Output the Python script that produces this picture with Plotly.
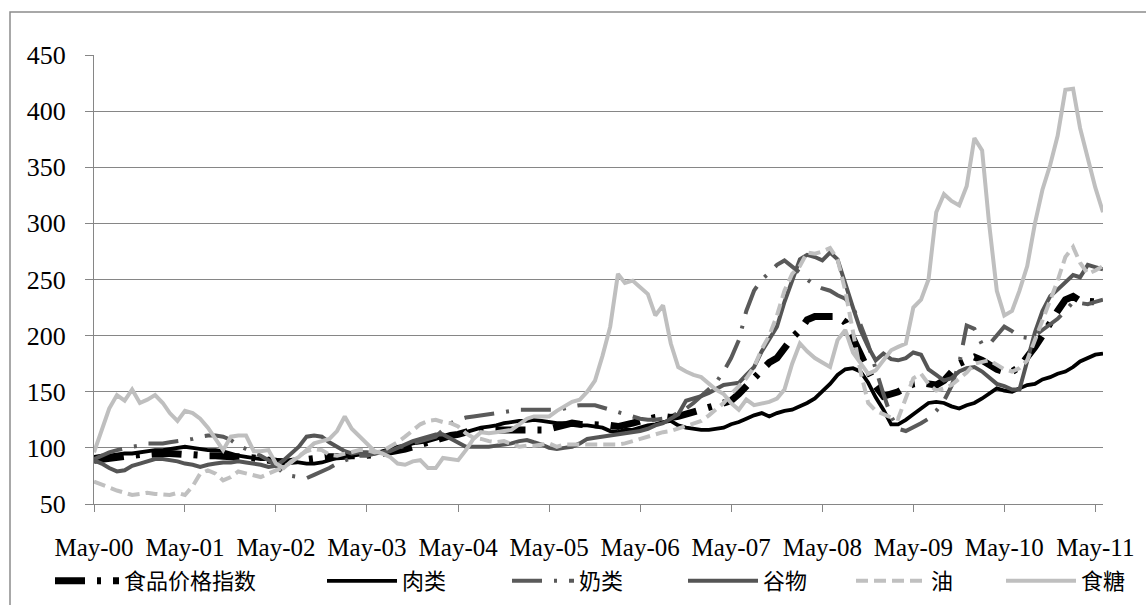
import pandas as pd
import plotly.graph_objects as go

# ---- data (monthly, May-2000 .. Jun-2011) ----
months = pd.date_range("2000-05-01", periods=134, freq="MS")

food = [89, 90, 91, 92, 93, 93, 94, 94, 95, 95, 95, 94,
        94, 94, 93, 93, 93, 92, 92, 92, 92, 91, 90, 89,
        88, 87, 88, 89, 90, 91, 91, 92, 92, 93, 93, 93,
        93, 94, 95, 96, 97, 99, 101, 103, 106, 108, 110, 111,
        112, 114, 116, 116, 116, 115, 115, 115, 115, 115, 116, 116,
        117, 119, 121, 122, 121, 121, 120, 120, 120, 119, 120, 122,
        124, 126, 127, 128, 127, 128, 130, 132, 134, 136, 138, 139,
        142, 148, 155, 163, 170, 176, 180, 190, 198, 205, 214, 217,
        217, 217, 217, 212, 198, 182, 167, 155, 146, 148, 150, 154,
        157, 158, 157, 156, 160, 168, 175, 178, 181, 178, 174, 170,
        168, 168, 172, 180, 190, 200, 212, 222, 232, 235, 231, 230,
        230, 232]

meat = [92, 93, 93, 94, 95, 95, 96, 97, 98, 98, 99, 100,
        101, 100, 99, 98, 98, 97, 95, 93, 92, 91, 90, 90,
        89, 89, 88, 87, 86, 86, 87, 89, 91, 92, 93, 94,
        94, 95, 97, 99, 101, 102, 104, 105, 106, 108, 110, 111,
        112, 114, 116, 118, 119, 120, 122, 123, 124, 124, 125, 124,
        123, 122, 122, 121, 120, 120, 119, 118, 115, 114, 116, 116,
        118, 120, 121, 123, 124, 120, 118, 117, 116, 116, 117, 118,
        121, 123, 126, 129, 131, 128, 131, 133, 134, 137, 140, 144,
        150, 157, 165, 170, 171, 168, 158, 145, 134, 121, 121, 125,
        130, 135, 140, 141, 140, 137, 135, 138, 140, 144, 148, 153,
        151, 150, 153, 156, 157, 161, 163, 166, 168, 172, 177, 180,
        183, 184]

dairy = [90, 93, 96, 98, 100, 101, 102, 104, 104, 104, 105, 106,
         107, 108, 110, 111, 111, 110, 107, 102, 99, 96, 93, 89,
         84, 77, 75, 74, 73, 76, 79, 82, 86, 89, 91, 93,
         93, 95, 96, 98, 100, 102, 104, 106, 108, 110, 116, 122,
         125, 127, 128, 129, 130, 131, 132, 133, 134, 134, 134, 134,
         134, 134, 135, 137, 138, 138, 138, 136, 134, 132, 130, 128,
         126, 125, 125, 126, 128, 131, 135, 140, 146, 152, 158, 168,
         180, 196, 222, 240, 250, 256, 263, 267, 262, 256, 250, 245,
         242, 240, 236, 233, 225, 210, 192, 170, 148, 128, 117, 115,
         118, 122, 126, 133, 142, 155, 175, 209, 206, 192, 192, 200,
         208, 204, 199, 198, 200, 205, 210, 215, 222, 230, 229, 228,
         230, 232]

grains = [89, 86, 82, 79, 80, 84, 86, 88, 90, 90, 89, 88,
          86, 85, 83, 85, 86, 87, 87, 88, 87, 86, 85, 83,
          84, 89, 95, 101, 110, 111, 110, 105, 101, 97, 95, 96,
          96, 95, 96, 97, 100, 103, 106, 108, 110, 112, 112, 108,
          104, 101, 101, 101, 101, 102, 103, 104, 106, 107, 105, 103,
          100, 99, 100, 101, 104, 108, 109, 110, 111, 112, 113, 114,
          115, 117, 120, 122, 126, 130, 142, 144, 146, 149, 152, 156,
          157, 158, 165, 172, 186, 197, 208, 230, 250, 268, 272, 270,
          267, 274, 268, 245, 225, 205, 190, 178, 184, 179, 178, 180,
          185, 183, 170, 165, 160, 162, 168, 171, 172, 168, 163, 157,
          155, 152, 152, 176, 203, 222, 235, 241, 247, 254, 252, 263,
          261, 259]

oil = [70, 67, 65, 62, 60, 58, 59, 60, 59, 58, 58, 60,
       58, 66, 77, 80, 77, 71, 74, 79, 77, 75, 74, 77,
       80, 83, 87, 93, 97, 99, 98, 94, 93, 95, 96, 98,
       98, 96, 97, 101, 105, 110, 116, 121, 124, 125, 123, 122,
       119, 113, 109, 108, 106, 105, 106, 104, 101, 102, 102, 103,
       104, 101, 103, 103, 103, 103, 103, 103, 103, 103, 104, 106,
       108, 110, 112, 114, 115, 117, 119, 121, 124, 129, 134, 140,
       148, 155, 162, 172, 188, 200, 218, 240, 255, 262, 274, 273,
       275, 278, 268, 240, 205, 168, 140, 133, 130, 127, 126, 145,
       162, 166, 157, 151, 153, 156, 162, 167, 175, 177, 178, 174,
       170, 168, 171, 178, 196, 213, 232, 249, 270, 279, 265, 255,
       258, 262]

sugar = [96, 115, 135, 147, 142, 152, 140, 143, 147, 140, 131, 124,
         133, 131, 126, 118, 108, 98, 110, 111, 111, 97, 97, 98,
         86, 82, 88, 92, 98, 104, 106, 108, 115, 128, 117, 110,
         103, 97, 95, 92, 86, 85, 88, 89, 82, 82, 91, 90,
         89, 98, 108, 114, 113, 114, 115, 116, 121, 126, 128, 128,
         128, 133, 137, 141, 143, 150, 160, 182, 208, 255, 247, 249,
         243, 237, 218, 227, 193, 172, 168, 165, 163, 157, 152, 148,
         140, 134, 143, 138, 140, 141, 144, 152, 175, 193, 186, 180,
         176, 172, 196, 205, 185, 175, 166, 169, 178, 187, 190, 193,
         225, 232, 250, 310, 326, 320, 316, 333, 376, 365, 300, 240,
         218, 222, 240, 262, 300, 330, 352, 378, 419, 420, 385, 358,
         332, 310]

names = ["食品价格指数", "肉类", "奶类", "谷物", "油", "食糖"]
values = [food, meat, dairy, grains, oil, sugar]
colors = ["#000000", "#000000", "#5a5a5a", "#555555", "#c0c0c0", "#bfbfbf"]
widths = [7, 3.8, 4, 4, 4, 4]
dashes = ["30px,12px,4px,12px", "solid", "30px,12px,3px,12px", "solid", "12px,6px", "solid"]
legend_x_px = [50, 322, 507, 683, 851, 1001]
legend_item_w = [64, 70, 62, 70, 70, 70]

# plot-area geometry (pixels)
L, R, T, B = 94, 43, 55, 101
W, H = 1146, 605
PW, PH = W - L - R, H - T - B

serif = "Liberation Serif, Times New Roman, Times, serif"

fig = go.Figure()
for i in range(6):
    lg = "legend" if i == 0 else f"legend{i+1}"
    fig.add_trace(go.Scatter(
        x=months, y=values[i], mode="lines", name=names[i],
        line=dict(color=colors[i], width=widths[i], dash=dashes[i]),
        legend=lg,
    ))

legend_font = dict(family="Noto Sans CJK SC", size=22, color="#000000")
leg_y = (H - B - 581) / PH
layout_legends = {}
for i in range(6):
    key = "legend" if i == 0 else f"legend{i+1}"
    layout_legends[key] = dict(
        x=(legend_x_px[i] - L) / PW, y=leg_y, xanchor="left", yanchor="middle",
        orientation="h", font=legend_font, bgcolor="rgba(0,0,0,0)",
        borderwidth=0, itemwidth=legend_item_w[i],
    )

axis_gray = "#868686"
fig.update_layout(
    width=W, height=H,
    margin=dict(l=L, r=R, t=T, b=B, autoexpand=False),
    paper_bgcolor="white", plot_bgcolor="white",
    showlegend=True,
    **layout_legends,
    xaxis=dict(
        type="date", range=["2000-05-01", "2011-06-01"],
        tick0="2000-05-01", dtick="M12", tickformat="%b-%y",
        ticks="outside", ticklen=7, tickcolor=axis_gray, tickwidth=1,
        showline=True, linecolor=axis_gray, linewidth=1,
        showgrid=False, zeroline=False,
        tickfont=dict(family=serif, size=25, color="#000000"),
        ticklabelstandoff=14,
    ),
    yaxis=dict(
        range=[50, 450], tick0=50, dtick=50,
        ticks="outside", ticklen=8, tickcolor=axis_gray, tickwidth=1,
        showline=True, linecolor=axis_gray, linewidth=1,
        showgrid=True, gridcolor=axis_gray, gridwidth=1, zeroline=False,
        tickfont=dict(family=serif, size=26, color="#000000"),
        ticklabelstandoff=14,
    ),
    shapes=[dict(
        type="rect", xref="paper", yref="paper",
        x0=(10 - L) / PW, x1=(1170 - L) / PW,
        y0=(H - B - 640) / PH, y1=(H - B - 12) / PH,
        line=dict(color="#8c8c8c", width=1.5), fillcolor="rgba(0,0,0,0)", layer="below",
    )],
)

fig.write_html("out.html")
